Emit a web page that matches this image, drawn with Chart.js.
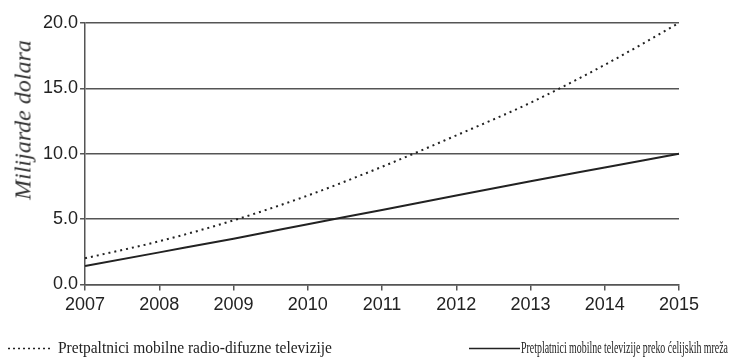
<!DOCTYPE html>
<html>
<head>
<meta charset="utf-8">
<script src="https://cdn.jsdelivr.net/npm/chart.js@4/dist/chart.umd.min.js"></script>
<style>
html,body{margin:0;padding:0;background:#fff;}
#wrap{position:relative;width:729px;height:361px;overflow:hidden;}
#ytitle{position:absolute;left:23px;top:120px;transform:translate(-50%,-50%) rotate(-90deg);font-family:"Liberation Serif",serif;font-style:italic;font-size:24px;color:#333;white-space:nowrap;}
.leg{position:absolute;top:339px;font-family:"Liberation Serif",serif;font-size:16px;color:#222;white-space:nowrap;display:flex;align-items:center;}
.leg span{display:inline-block;transform-origin:0 50%;}
</style>
</head>
<body>
<div id="wrap">
<canvas id="c" width="729" height="361"></canvas>
<div id="ytitle"></div>
<div class="leg" id="leg0" style="left:8px"></div>
<div class="leg" id="leg1" style="left:469px;top:338px;font-size:17px"></div>
</div>
<script>
const categories = ['2007','2008','2009','2010','2011','2012','2013','2014','2015'];
const broadcastSubscribers = [2.0, 3.3, 4.9, 6.8, 9.0, 11.4, 13.9, 16.8, 20.0];
const cellularSubscribers = [1.4, 2.45, 3.5, 4.6, 5.7, 6.8, 7.9, 8.95, 10.0];
const seriesNames = ['Pretpaltnici mobilne radio-difuzne televizije', 'Pretplatnici mobilne televizije preko ćelijskih mreža'];
const yTicks = [0, 5, 10, 15, 20];
const yTitle = 'Milijarde dolara';

document.getElementById('ytitle').textContent = yTitle;

const tickFont = {family: "'Liberation Sans', Arial", size: 18};

const chart = new Chart(document.getElementById('c'), {
  type: 'line',
  data: {
    labels: categories,
    datasets: [
      {label: seriesNames[0], data: broadcastSubscribers, borderColor: '#222', borderWidth: 2, borderDash: [2,4], pointRadius: 0, tension: 0.4, cubicInterpolationMode: 'monotone', fill: false},
      {label: seriesNames[1], data: cellularSubscribers, borderColor: '#222', borderWidth: 2, pointRadius: 0, tension: 0.4, cubicInterpolationMode: 'monotone', fill: false}
    ]
  },
  options: {
    responsive: false,
    animation: false,
    layout: {padding: {left: 41, right: 50, top: 23, bottom: 41}},
    plugins: {legend: {display: false}, tooltip: {enabled: false}},
    scales: {
      x: {
        type: 'category',
        offset: false,
        grid: {display: true, drawOnChartArea: false, drawTicks: true, tickLength: 6, color: '#555', lineWidth: 1.5},
        border: {display: true, color: '#555', width: 1.5},
        ticks: {color: '#222', font: tickFont, padding: 4, maxRotation: 0, autoSkip: false}
      },
      y: {
        min: 0, max: 20,
        afterBuildTicks: (s) => { s.ticks = yTicks.map(v => ({value: v})); },
        grid: {display: true, drawOnChartArea: true, drawTicks: true, tickLength: 5, color: '#555', lineWidth: 1.5},
        border: {display: true, color: '#555', width: 1.5},
        ticks: {color: '#222', font: tickFont, padding: 2, callback: v => Number(v).toFixed(1)}
      }
    }
  }
});

function sample(dash, w){
  const c = document.createElement('canvas');
  c.width = w; c.height = 10;
  c.style.marginRight = dash ? '8px' : '1px';
  const g = c.getContext('2d');
  g.strokeStyle = '#222'; g.lineWidth = 1.5;
  if (dash) g.setLineDash([2,3]);
  g.beginPath(); g.moveTo(0,5.5); g.lineTo(w,5.5); g.stroke();
  return c;
}
const legendWidths = [274, 207];
['leg0','leg1'].forEach((id,i) => {
  const el = document.getElementById(id);
  el.appendChild(sample(i === 0, i === 0 ? 42 : 51));
  const s = document.createElement('span'); s.textContent = seriesNames[i];
  el.appendChild(s);
  const w = s.getBoundingClientRect().width;
  s.style.transform = 'scaleX(' + (legendWidths[i] / w) + ')';
});
</script>
</body>
</html>
